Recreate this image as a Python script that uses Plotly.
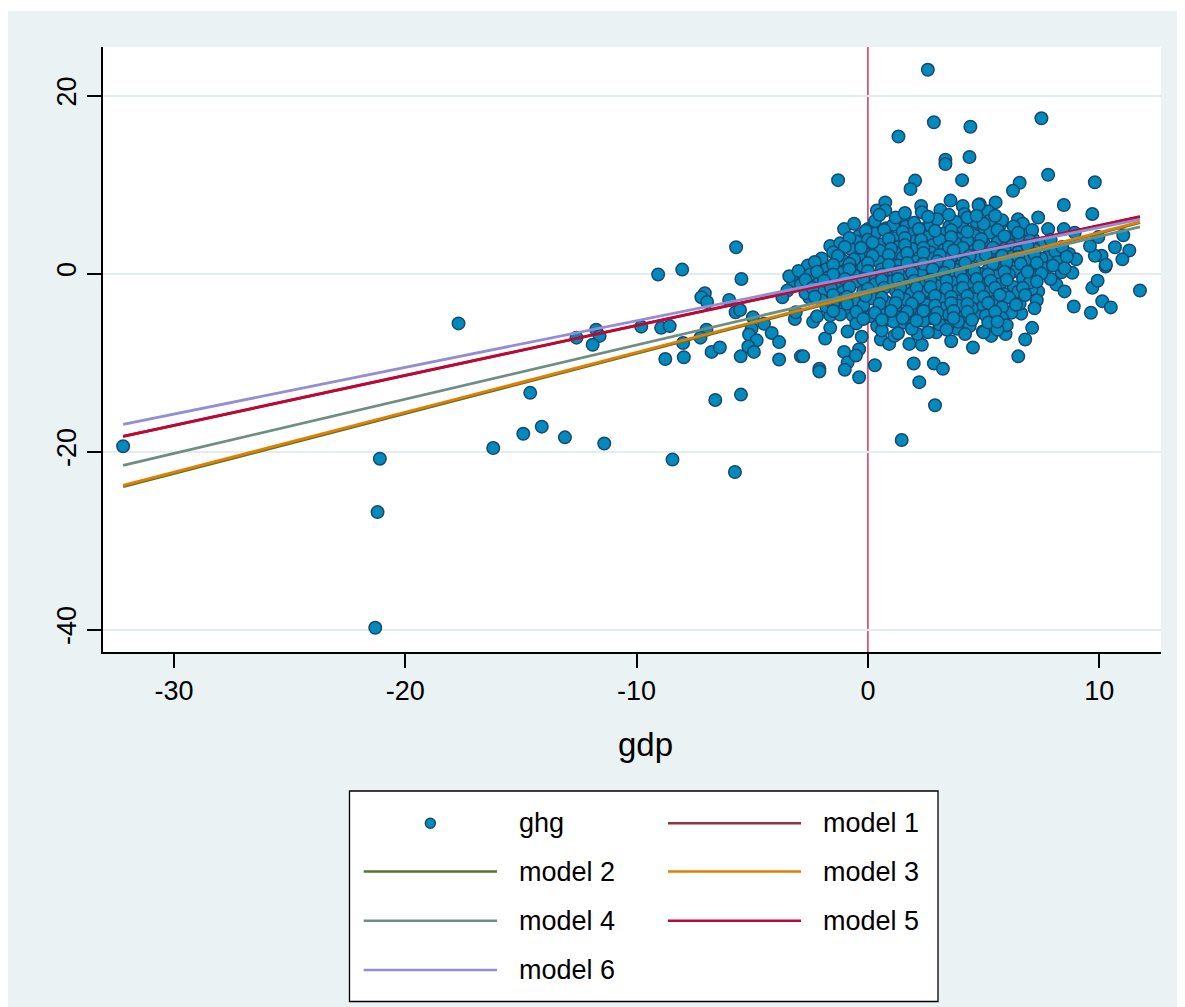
import plotly.graph_objects as go

# ---------------- data ----------------
# scatter: ghg (y) against gdp (x), read off the picture region by region
pts_left = [(-32.2,-19.4),(-17.7,-5.6),(-14.6,-13.4),(-16.2,-19.6),(-14.9,-18.0),(-14.1,-17.2),
            (-13.1,-18.4),(-21.1,-20.8),(-21.2,-26.8),(-21.3,-39.8),(-12.6,-7.2),(-11.4,-19.1),
            (-11.75,-6.3),(-11.6,-7.0),(-11.9,-8.0),(-9.8,-5.96),(-9.07,-0.1),(-8.03,0.45),
            (-8.94,-6.1),(-8.57,-5.9),(-8.76,-9.6),(-8.45,-20.9),(-7.99,-7.8),(-7.96,-9.4),
            (-7.05,-2.2),(-7.2,-2.66),(-6.95,-3.2),(-6.98,-6.3),(-7.24,-7.2),(-6.76,-8.8),
            (-6.4,-8.3),(-6.6,-14.2),(-6.0,-2.96),(-5.7,2.96),(-5.47,-0.6),(-5.72,-4.35),
            (-5.53,-4.1),(-4.97,-4.9),(-5.03,-6.2),(-5.14,-6.85),(-4.81,-7.5),(-5.17,-8.2),
            (-4.93,-8.8),(-5.5,-9.3),(-5.49,-13.6),(-5.75,-22.3),(-4.49,-5.65),(-4.16,-6.67),
            (-3.84,-7.7),(-3.84,-9.66),(-3.24,-0.86),(-3.48,-1.9),(-3.7,-2.66),(-3.16,-5.1),
            (-3.12,-4.35),(-2.9,-9.3)]

pts_low_mid = [(-2.8,-9.3),(-2.1,-10.7),(-2.1,-11.0),(-1.85,-7.3),(-1.63,-6.1),(-1.63,-4.7),
               (-2.37,-5.4),(-2.54,-2.7),(-1.03,-8.8),(-0.88,-10.0),(-1.0,-10.8),(-0.38,-8.5),
               (-0.52,-9.2),(-0.38,-11.65),(-0.27,-7.1),(-0.88,-6.5),(-0.66,-4.7),(-0.23,-4.7),
               (0.3,-10.3),(0.56,-7.4),(0.92,-7.9),(1.14,-7.0),(0.92,-5.2),(1.55,-5.5),
               (1.79,-7.9),(2.33,-8.0),(2.15,-6.8),(1.98,-10.1),(2.22,-12.2),(2.85,-10.1),
               (3.24,-10.7),(2.9,-14.8),(1.46,-18.7),(2.95,-6.6),(3.6,-7.6),(3.86,-6.2),
               (4.54,-8.3),(4.97,-6.5),(4.68,-4.5),(4.32,-3.2),(3.45,-5.8),(2.92,-4.3),
               (2.3,-2.66),(1.79,-4.5),(1.29,-3.0),(2.0,-1.5)]

pts_right = [(11.76,-1.9),(8.37,0.15),(8.84,0.08),(8.15,-1.24),(8.5,-2.0),(8.9,-3.7),
             (9.64,-4.4),(10.13,-3.1),(10.5,-3.8),(9.7,-1.6),(9.93,-0.8),(10.27,0.8),
             (7.1,-6.1),(6.8,-7.4),(6.5,-9.3),(5.95,-6.8),(5.33,-7.0),(5.0,-6.6),
             (7.36,-2.0),(7.07,-1.8),(6.63,-4.5),(6.2,-4.4),(5.62,-4.35),(6.56,-3.4),
             (5.33,-3.3),(6.68,-1.3),(6.92,0.7),
             (7.5,17.45),(7.79,11.1),(6.56,10.2),(6.27,9.3),(9.81,10.26),(8.47,7.7),
             (9.7,6.7),(7.36,6.3),(5.52,8.0),(5.19,7.0),(4.83,7.8),(6.49,6.1),(6.7,5.6),
             (5.72,5.5),(5.26,5.95),(7.79,5.0),(8.47,5.0),(8.94,4.6),(11.04,4.3),(11.3,2.6),
             (11.0,1.6),(10.68,2.96),(10.1,2.0),(10.29,1.0),(9.81,2.0),(9.6,3.1),(9.96,4.1),
             (7.86,2.6),(7.79,1.8),(7.0,0.9),(7.14,3.9),(6.27,4.1)]

pts_top = [(2.59,22.9),(2.85,17.0),(4.43,16.5),(1.32,15.4),(3.35,12.8),(3.35,12.3),(4.39,13.1),
           (4.07,10.5),(2.04,10.45),(1.84,9.5),(-1.29,10.5),(0.75,8.0),(0.39,7.1),(0.75,7.1),
           (2.3,7.6),(2.33,6.9),(3.13,7.15),(3.57,8.2),(4.1,7.6),(4.18,6.7),(4.78,7.7),
           (-1.03,5.0),(-1.63,3.1),(-0.81,3.1),(-1.39,1.0),(-0.59,0.8),(-2.07,0.26),(0.0,5.0),
           (0.78,5.1),(1.57,5.8),(1.65,5.3),(2.37,5.0),(2.95,4.6),(3.52,5.3),(4.1,5.2),
           (4.68,5.8),(5.04,5.0),(-0.08,3.1),(0.27,3.2),(0.78,2.85),(1.65,3.5),(2.37,3.3),
           (3.45,3.1),(4.46,2.96),(5.04,3.3),(0.13,1.65),(1.0,1.65),(2.44,2.0),(3.3,1.1),
           (4.03,0.9)]

pts_core = [(-0.4,4.2),(0.3,4.5),(1.1,4.0),(1.8,4.4),(2.6,4.1),(3.3,4.5),(3.9,3.9),(4.6,4.3),
            (5.3,4.6),(6.0,4.0),(6.9,4.4),
            (-1.2,3.4),(-0.5,3.6),(0.6,3.3),(1.3,3.0),(2.0,3.6),(2.8,3.2),(3.1,3.8),(3.8,3.4),
            (4.3,3.7),(5.6,3.5),(6.2,3.1),(6.6,3.8),(7.6,3.4),
            (-1.5,2.4),(-0.7,2.7),(-0.1,2.2),(0.5,2.6),(1.2,2.3),(1.9,2.8),(2.7,2.4),(3.3,2.7),
            (3.9,2.2),(4.6,2.6),(5.3,2.3),(5.9,2.8),(6.5,2.4),(7.2,2.7),(8.1,2.5),(8.7,2.2),
            (-2.0,1.7),(-1.1,1.5),(-0.4,1.9),(0.5,1.3),(1.5,1.8),(2.1,1.4),(2.8,1.7),(3.6,1.9),
            (4.3,1.5),(4.9,1.8),(5.6,1.4),(6.2,1.9),(6.8,1.5),(7.5,1.7),(8.2,1.3),(9.0,1.6),
            (-2.6,0.9),(-1.8,0.5),(-1.0,0.3),(-0.2,0.8),(0.6,0.5),(1.3,0.9),(2.0,0.6),(2.6,0.2),
            (3.1,0.8),(3.8,0.4),(4.5,0.7),(5.2,0.4),(5.8,0.9),(6.4,0.3),(7.6,0.6),(8.0,0.9),
            (-3.4,-0.3),(-2.5,-0.1),(-1.7,-0.4),(-1.2,0.1),(-0.6,-0.2),(0.2,-0.3),(0.9,0.0),
            (1.6,-0.4),(2.3,-0.1),(2.9,-0.5),(3.5,-0.1),(4.2,-0.4),(4.8,0.0),(5.5,-0.3),
            (6.1,-0.1),(6.7,-0.5),(7.3,-0.2),(7.9,-0.6),
            (-2.9,-1.2),(-2.1,-1.0),(-1.3,-1.3),(-0.5,-0.9),(0.3,-1.2),(1.0,-0.9),(1.6,-1.3),
            (2.4,-1.0),(3.0,-1.4),(3.7,-1.0),(4.4,-1.3),(5.0,-0.9),(5.7,-1.2),(6.3,-1.5),(7.0,-1.0),
            (-2.7,-2.2),(-1.9,-1.9),(-1.1,-2.1),(-0.2,-2.0),(0.5,-2.3),(1.2,-1.9),(1.9,-2.2),
            (2.6,-1.9),(3.3,-2.3),(3.9,-1.9),(4.6,-2.2),(5.3,-1.9),(5.9,-2.3),(6.5,-2.0),
            (-2.0,-3.0),(-1.3,-2.8),(-0.6,-3.1),(0.2,-2.8),(0.8,-3.2),(1.6,-2.9),(2.6,-3.3),
            (3.2,-2.8),(3.9,-3.1),(4.7,-2.8),(5.5,-3.1),(6.1,-2.7),(7.3,-3.0),
            (-1.8,-3.7),(-1.0,-3.9),(-0.2,-3.6),(0.5,-4.0),(1.2,-3.7),(2.0,-3.9),(2.5,-3.5),
            (3.3,-3.9),(3.9,-3.6),(4.5,-3.9),(5.0,-3.6),(5.8,-3.8),(7.2,-3.9),
            (-2.2,-4.8),(-1.2,-4.6),(0.1,-4.8),(0.6,-4.5),(1.3,-4.9),(2.3,-4.6),(2.7,-5.0),
            (3.5,-4.6),(4.1,-4.9),(5.1,-4.7),(5.8,-5.0),
            (-0.5,-5.6),(0.4,-5.9),(1.1,-5.4),(1.9,-5.8),(2.4,-5.3),(3.1,-5.7),(3.9,-5.4),
            (4.4,-5.9),(5.2,-5.5),(6.0,-5.8),
            (0.6,-6.4),(1.3,-6.7),(1.9,-6.2),(2.6,-6.6),(3.4,-6.3),(4.2,-6.8),(5.6,-6.3),
            (-0.6,5.6),(0.3,5.9),(1.1,5.5),(2.0,5.7),(2.7,5.4),(3.0,6.1),(3.8,5.8),(4.3,6.3),
            (5.0,5.6),(5.8,6.0),(6.3,5.3),
            (0.5,6.6),(1.2,6.3),(1.6,6.8),(2.6,6.4),(3.5,6.6),(4.7,6.5),(5.5,6.5)]

pts_core2 = [(-0.1,4.8),(0.7,4.9),(1.5,4.7),(2.2,5.0),(2.9,4.8),(3.6,4.9),(4.3,4.7),(5.6,4.9),
             (6.5,4.6),(7.1,4.9),
             (-0.8,4.0),(0.0,3.8),(0.9,3.9),(1.6,4.0),(2.3,3.8),(3.6,4.1),(4.9,3.9),(5.9,4.2),
             (7.0,3.7),(7.9,3.8),
             (-1.0,3.0),(-0.3,2.9),(0.2,3.5),(1.0,2.8),(1.6,3.2),(2.4,2.9),(3.5,3.0),(4.1,2.9),
             (4.8,3.1),(5.4,2.9),(6.9,3.1),(8.4,3.0),
             (-1.3,2.0),(-0.6,1.6),(0.2,2.0),(0.9,2.1),(1.7,2.3),(2.4,2.3),(3.1,2.1),(3.7,2.6),
             (4.4,2.0),(5.1,2.1),(5.8,2.0),(6.5,1.9),(7.2,2.2),(8.6,1.9),
             (-2.3,1.3),(-1.5,1.0),(-0.8,1.1),(0.0,1.2),(0.9,1.0),(1.7,1.2),(2.4,1.1),(3.0,1.4),
             (3.5,1.0),(4.2,1.2),(5.4,1.1),(6.0,1.3),(6.6,1.1),(7.3,1.2),(8.5,0.6),
             (-3.0,0.3),(-2.2,0.2),(-1.5,-0.1),(-0.8,0.5),(0.0,0.3),(0.6,-0.1),(1.3,0.2),(1.9,0.1),
             (2.8,0.5),(3.3,0.1),(4.0,0.0),(4.6,0.3),(5.2,-0.1),(5.9,0.2),(6.9,0.2),(7.5,0.0),
             (-2.7,-0.7),(-1.9,-0.8),(-1.0,-0.6),(-0.2,-0.6),(0.6,-0.7),(1.3,-0.6),(2.0,-0.8),
             (2.7,-0.7),(3.4,-0.8),(4.1,-0.7),(4.7,-0.6),(5.3,-0.8),(6.0,-0.7),(7.3,-0.9),
             (-2.4,-1.6),(-1.6,-1.6),(-0.8,-1.5),(0.0,-1.7),(0.7,-1.6),(1.4,-1.6),(2.1,-1.6),
             (2.7,-1.5),(3.4,-1.7),(4.1,-1.6),(4.8,-1.6),(5.5,-1.6),(6.7,-1.6),
             (-2.3,-2.6),(-1.5,-2.4),(-0.9,-2.6),(-0.1,-2.5),(0.6,-2.7),(1.3,-2.5),(2.2,-2.7),
             (2.9,-2.5),(3.6,-2.6),(4.3,-2.5),(5.0,-2.6),(5.7,-2.4),(6.8,-2.4),
             (-1.5,-3.4),(-0.9,-3.4),(0.5,-3.4),(1.2,-3.3),(1.9,-3.4),(2.9,-3.6),(3.6,-3.3),
             (4.3,-3.4),(5.2,-3.3),(6.4,-3.5),
             (-1.5,-4.2),(-0.5,-4.3),(0.3,-4.4),(1.0,-4.2),(1.7,-4.3),(2.4,-4.2),(3.0,-4.4),
             (3.7,-4.2),(4.3,-4.3),(5.5,-4.3),
             (-0.2,-5.1),(0.6,-5.2),(1.5,-5.0),(2.1,-5.3),(2.9,-5.1),(3.7,-5.0),(4.5,-5.2),
             (5.6,-5.4)]

# fitted lines (endpoints at min and max gdp)
model_x = [-32.2, 11.76]
model1_y = [-18.3, 6.38]
model2_y = [-23.95, 5.72]
model3_y = [-23.8, 5.8]
model4_y = [-21.54, 5.24]
model5_y = [-18.28, 6.4]
model6_y = [-16.93, 6.1]

model_names = ["model 1", "model 2", "model 3", "model 4", "model 5", "model 6"]
model_ys = [model1_y, model2_y, model3_y, model4_y, model5_y, model6_y]
model_colors = ["#90353B", "#55752F", "#E37E00", "#6E8E84", "#C10534", "#938DD2"]

x_ticks = [-30, -20, -10, 0, 10]
y_ticks = [-40, -20, 0, 20]
x_title = "gdp"
scatter_name = "ghg"

# ---------------- layout geometry ----------------
# page pixel coordinates; the page body has an 8px margin, so the figure starts at (8, 8)
OFF = 8
W, H = 1185 - OFF, 1007 - OFF
PL, PR, PT, PB = 103, 1161, 47, 652      # plot area in page pixels
X_RANGE = [-33.07, 12.67]
Y_RANGE = [-42.52, 25.46]

def px2x(px):
    return (px - PL) / (PR - PL)

def py2y(py):
    return (PB - py) / (PB - PT)

FONT = "Liberation Sans, Arial, Helvetica, sans-serif"
MARKER_FILL = "#008BBC"
MARKER_LINE = "#1A476F"
REF_COLOR = "#C10534"
GRID = "#E3ECEF"
BG = "#EAF2F3"

all_pts = pts_left + pts_low_mid + pts_right + pts_top + pts_core + pts_core2
gdp = [p[0] for p in all_pts]
ghg = [p[1] for p in all_pts]

fig = go.Figure()
fig.add_trace(go.Scatter(
    x=gdp, y=ghg, mode="markers", name=scatter_name,
    marker=dict(size=12.5, color=MARKER_FILL, line=dict(color=MARKER_LINE, width=1.5)),
    showlegend=False, hoverinfo="x+y"))

for name, ys, col in zip(model_names, model_ys, model_colors):
    fig.add_trace(go.Scatter(x=model_x, y=ys, mode="lines", name=name,
                             line=dict(color=col, width=2.8), showlegend=False))

shapes = []
# reference lines at 0
shapes.append(dict(type="line", xref="x", yref="paper", x0=0, x1=0, y0=0, y1=1,
                   line=dict(color=REF_COLOR, width=1.2), layer="between"))
shapes.append(dict(type="line", xref="paper", yref="y", x0=0, x1=1, y0=0, y1=0,
                   line=dict(color=REF_COLOR, width=1.2), layer="between"))
# thin white strip at the very top of the page
shapes.append(dict(type="rect", xref="paper", yref="paper", x0=px2x(0), x1=px2x(1200),
                   y0=py2y(11), y1=py2y(0), fillcolor="white", line=dict(width=0), layer="below"))

# ---- legend (Stata style: 2 columns, long keys) ----
LEG_BOX = (349.5, 791, 938, 1001.5)
shapes.append(dict(type="rect", xref="paper", yref="paper",
                   x0=px2x(LEG_BOX[0]), x1=px2x(LEG_BOX[2]),
                   y0=py2y(LEG_BOX[3]), y1=py2y(LEG_BOX[1]),
                   fillcolor="white", line=dict(color="black", width=1.3), layer="above"))
rows = [823.3, 871.5, 920.7, 970.0]
col_keys = [(363.7, 497.0), (668.0, 801.0)]
col_text = [516.8, 821.0]
legend_entries = [(scatter_name, None, 0, 0)] + \
    [(n, c, i_row, i_col) for n, c, (i_row, i_col) in
     zip(model_names, model_colors, [(0, 1), (1, 0), (1, 1), (2, 0), (2, 1), (3, 0)])]

annotations = []
for text, col, r, c in legend_entries:
    yy = py2y(rows[r])
    k0, k1 = col_keys[c]
    if col is None:
        shapes.append(dict(type="circle", xref="paper", yref="paper",
                           xsizemode="pixel", ysizemode="pixel",
                           xanchor=px2x((k0 + k1) / 2), yanchor=yy,
                           x0=-5, x1=5, y0=-5, y1=5,
                           fillcolor=MARKER_FILL, line=dict(color=MARKER_LINE, width=1.5),
                           layer="above"))
    else:
        shapes.append(dict(type="line", xref="paper", yref="paper",
                           x0=px2x(k0), x1=px2x(k1), y0=yy, y1=yy,
                           line=dict(color=col, width=2.5), layer="above"))
    annotations.append(dict(text=text, xref="paper", yref="paper", x=px2x(col_text[c]), y=yy,
                            xanchor="left", yanchor="middle", showarrow=False,
                            font=dict(family=FONT, size=27, color="black")))

# x axis title
annotations.append(dict(text=x_title, xref="paper", yref="paper", x=px2x(645), y=py2y(744),
                        xanchor="center", yanchor="middle", showarrow=False,
                        font=dict(family=FONT, size=33, color="black")))

fig.update_layout(
    width=W, height=H,
    margin=dict(l=PL - OFF, r=(W + OFF) - PR, t=PT - OFF, b=(H + OFF) - PB, pad=0),
    paper_bgcolor=BG, plot_bgcolor="white",
    font=dict(family=FONT, size=27, color="black"),
    shapes=shapes, annotations=annotations, showlegend=False,
    xaxis=dict(range=X_RANGE, tickmode="array", tickvals=x_ticks,
               ticktext=[str(v) for v in x_ticks],
               showgrid=False, zeroline=False, showline=True, linecolor="black", linewidth=1.6,
               ticks="outside", ticklen=14, tickwidth=1.6, tickcolor="black",
               tickfont=dict(family=FONT, size=27, color="black")),
    yaxis=dict(range=Y_RANGE, tickmode="array", tickvals=y_ticks,
               ticktext=[str(v) for v in y_ticks], tickangle=-90,
               showgrid=True, gridcolor=GRID, gridwidth=2, zeroline=False,
               showline=True, linecolor="black", linewidth=1.6,
               ticks="outside", ticklen=14, tickwidth=1.6, tickcolor="black",
               tickfont=dict(family=FONT, size=27, color="black")),
)

fig.write_html("out.html")
